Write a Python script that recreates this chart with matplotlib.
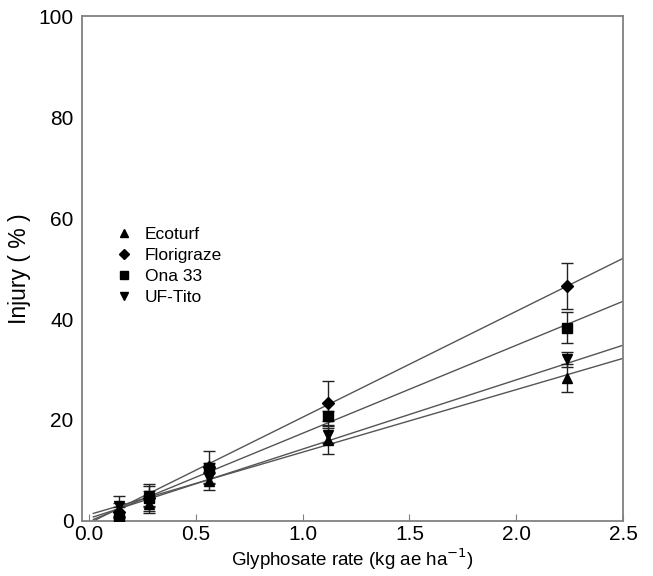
import matplotlib
matplotlib.use("Agg")
import matplotlib.pyplot as plt

plt.rcParams['font.family'] = ['Liberation Sans', 'DejaVu Sans']

rates = [0.14, 0.28, 0.56, 1.12, 2.24]
series = ["Ecoturf", "Florigraze", "Ona 33", "UF-Tito"]
markers = ["^", "D", "s", "v"]

ecoturf = [2.0, 3.3, 8.0, 16.0, 28.3]
florigraze = [1.8, 4.5, 10.6, 23.4, 46.5]
ona33 = [0.3, 4.5, 10.5, 20.8, 38.3]
uftito = [3.0, 5.0, 8.5, 17.0, 32.0]

ecoturf_err = [1.5, 1.7, 1.8, 2.8, 2.8]
florigraze_err = [1.0, 2.5, 3.2, 4.3, 4.5]
ona33_err = [0.5, 1.5, 1.0, 1.0, 3.0]
uftito_err = [2.0, 2.3, 1.0, 1.5, 1.5]

line_x = [0.02, 2.5]
ecoturf_fit = [1.5, 32.2]
florigraze_fit = [0.0, 52.0]
ona33_fit = [0.3, 43.5]
uftito_fit = [0.8, 34.8]

values = [ecoturf, florigraze, ona33, uftito]
errors = [ecoturf_err, florigraze_err, ona33_err, uftito_err]
fits = [ecoturf_fit, florigraze_fit, ona33_fit, uftito_fit]
msizes = [7, 6, 6.5, 7]

fig = plt.figure(figsize=(6.53, 5.76), dpi=100)
ax = fig.add_axes([0.1256, 0.0955, 0.8284, 0.8767])

for name, m, v, e, f, ms in zip(series, markers, values, errors, fits, msizes):
    ax.plot(line_x, f, color='#555555', lw=1.0, zorder=1)
    ax.errorbar(rates, v, yerr=e, fmt=m, color='black', ms=ms, ecolor='#222222',
                elinewidth=1.0, capsize=4.5, capthick=1.0, zorder=3)

handles = [plt.Line2D([], [], marker=m, ls='none', color='black', ms=ms * 0.8)
           for m, ms in zip(markers, msizes)]
ax.legend(handles, series, loc='upper left', bbox_to_anchor=(0.03, 0.614),
          frameon=False, fontsize=12.5, handletextpad=0.6, labelspacing=0.35,
          handlelength=1.2)

ax.set_xlim(-0.033, 2.5)
ax.set_ylim(0, 100)
ax.set_xticks([0.0, 0.5, 1.0, 1.5, 2.0, 2.5])
ax.set_xticklabels(["0.0", "0.5", "1.0", "1.5", "2.0", "2.5"])
ax.set_yticks([0, 20, 40, 60, 80, 100])

for s in ax.spines.values():
    s.set_color('#808080')
    s.set_linewidth(1.3)

ax.tick_params(axis='x', direction='in', length=5, color='#808080', labelsize=15, pad=3)
ax.tick_params(axis='y', length=0, labelsize=15, pad=6)

ax.set_xlabel(r"Glyphosate rate (kg ae ha$^{-1}$)", fontsize=13.5, labelpad=2)
ax.set_ylabel("Injury ( % )", fontsize=16.5)
ax.yaxis.set_label_coords(-0.094, 0.5)

fig.savefig("out.png", dpi=100)
